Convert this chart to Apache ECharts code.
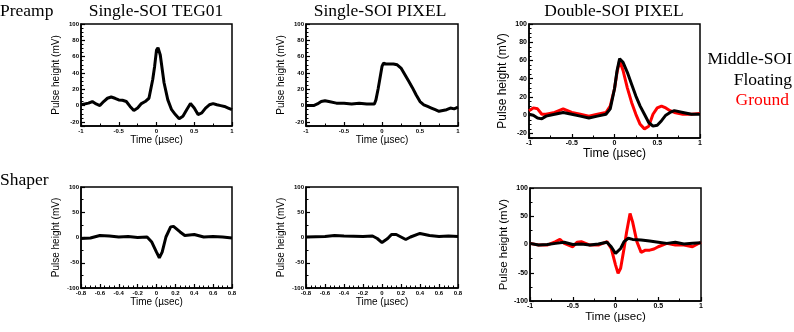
<!DOCTYPE html>
<html>
<head>
<meta charset="utf-8">
<script src="https://cdn.jsdelivr.net/npm/echarts@6/dist/echarts.min.js"></script>
<style>
html,body{margin:0;padding:0;background:#fff;}
#c{width:794px;height:332px;}
</style>
</head>
<body>
<div id="c"></div>
<script>
// ---- Data ----
// Panel 1: Preamp, Single-SOI TEG01
const t1 = [-1,-0.9,-0.85,-0.8,-0.75,-0.7,-0.65,-0.6,-0.55,-0.5,-0.45,-0.4,-0.35,-0.3,-0.25,-0.2,-0.15,-0.1,-0.05,-0.025,0,0.02,0.05,0.1,0.15,0.2,0.25,0.3,0.35,0.4,0.45,0.5,0.55,0.6,0.65,0.7,0.75,0.8,0.85,0.9,0.95,1];
const v1 = [1,3,5,2,0,5,9,10.5,9,7,6.5,5,-1,-6,-3,2.5,5,9,32,48,68,71,62,28,7,-5,-11,-16,-13,-5,2.5,-3,-11,-9,-3,1,2.5,1,0,-1,-3,-5];
// Panel 2: Preamp, Single-SOI PIXEL
const t2 = [-1,-0.9,-0.85,-0.8,-0.75,-0.7,-0.6,-0.5,-0.4,-0.3,-0.2,-0.1,-0.08,-0.05,0,0.02,0.05,0.1,0.15,0.2,0.25,0.3,0.35,0.4,0.45,0.5,0.55,0.6,0.65,0.7,0.75,0.8,0.85,0.9,0.95,1];
const v2 = [0,0,2,5,6,5,3,3,2,3,2,2,7,21,48,52,51,51,51,50,46,38,30,22,13,5,1,-1,-3,-5,-7,-6,-5,-3,-4,-2];
// Panel 3: Preamp, Double-SOI PIXEL (Ground = red, Floating = black)
const t3 = [-1,-0.95,-0.9,-0.85,-0.8,-0.7,-0.6,-0.5,-0.4,-0.3,-0.2,-0.1,-0.05,0,0.03,0.06,0.08,0.1,0.15,0.2,0.25,0.3,0.35,0.4,0.45,0.5,0.55,0.6,0.65,0.7,0.8,0.9,1];
const v3ground = [5,8,7,1,1,3,7,3,1,-1,1,3,10,29,47,60,58,49,30,14,1,-10,-15,-12,1,8,10,8,5,3,1,1,2];
const v3float  = [1,0,-3,-4,-1,1,3,1,-1,-3,-1,1,7,29,49,62,62,58,47,34,21,10,1,-8,-12,-11,-6,0,3,5,3,1,1];
// Panel 4: Shaper, Single-SOI TEG01
const t4 = [-0.8,-0.7,-0.6,-0.5,-0.4,-0.3,-0.2,-0.1,-0.05,0,0.03,0.06,0.1,0.15,0.18,0.25,0.3,0.4,0.5,0.6,0.7,0.8];
const v4 = [-2,-1,4,3,1,2,0,1,-9,-29,-40,-29,1,21,22,11,4,6,1,2,1,-1];
// Panel 5: Shaper, Single-SOI PIXEL
const t5 = [-0.8,-0.6,-0.5,-0.4,-0.2,-0.1,-0.05,0,0.02,0.06,0.1,0.15,0.2,0.25,0.3,0.4,0.5,0.6,0.7,0.8];
const v5 = [1,2,4,3,2,3,-2,-10,-13,-2,6,6,1,-4,1,8,4,2,3,2];
// Panel 6: Shaper, Double-SOI PIXEL
const t6 = [-1,-0.9,-0.8,-0.7,-0.65,-0.6,-0.5,-0.45,-0.4,-0.3,-0.2,-0.1,-0.05,0,0.03,0.06,0.1,0.13,0.17,0.2,0.25,0.3,0.35,0.4,0.45,0.5,0.6,0.7,0.8,0.9,1];
const v6ground = [2,-1,-1,5,9,2,-4,4,5,-1,-1,5,-7,-36,-51,-42,-7,22,55,40,5,-14,-10,-10,-8,-4,2,-1,-1,-4,4];
const t6b = [-1,-0.9,-0.8,-0.7,-0.6,-0.5,-0.4,-0.3,-0.2,-0.1,-0.05,0,0.02,0.06,0.1,0.15,0.2,0.3,0.4,0.5,0.6,0.7,0.8,0.9,1];
const v6float = [2,-1,0,2,4,0,1,-1,1,4,-4,-16,-19,-7,5,11,9,8,6,4,2,4,1,2,3];

// Text
const rowLabels = ['Preamp','Shaper'];
const colTitles = ['Single-SOI TEG01','Single-SOI PIXEL','Double-SOI PIXEL'];
const legendTexts = ['Middle-SOI','Floating','Ground'];
const xName = 'Time (\u00b5sec)';
const yName = 'Pulse height (mV)';

// ---- Build chart ----
const zip = (t, v) => t.map((x, i) => [x, v[i]]);
const sans = 'Liberation Sans, Arial, sans-serif';
const serif = 'Liberation Serif, Times New Roman, serif';

const panels = [
  {g:{left:81,top:24,width:151,height:102}, x:{min:-1,max:1,interval:0.5,minor:2}, y:{min:-25,max:100,minor:4}, fs:6, ns:10, xg:6, yg:20},
  {g:{left:306,top:24,width:152,height:102}, x:{min:-1,max:1,interval:0.5,minor:2}, y:{min:-25,max:100,minor:4}, fs:6, ns:10, xg:6, yg:20},
  {g:{left:529,top:24,width:171,height:114}, x:{min:-1,max:1,interval:0.5,minor:2}, y:{min:-25,max:100,minor:4}, fs:7, ns:12, xg:8, yg:20},
  {g:{left:81,top:187,width:151,height:101}, x:{min:-0.8,max:0.8,interval:0.2,minor:4}, y:{min:-100,max:100,interval:50,minor:2}, fs:6, ns:10, xg:7, yg:20},
  {g:{left:306,top:187,width:152,height:101}, x:{min:-0.8,max:0.8,interval:0.2,minor:4}, y:{min:-100,max:100,interval:50,minor:2}, fs:6, ns:10, xg:7, yg:20},
  {g:{left:530,top:188,width:171,height:113}, x:{min:-1,max:1,interval:0.5,minor:2}, y:{min:-100,max:100,interval:50,minor:2}, fs:7, ns:11.5, xg:8, yg:20}
];

const axLine = {show:true, onZero:false, lineStyle:{color:'#000', width:1.5}};
const majorTick = {show:true, inside:true, length:4, lineStyle:{color:'#000', width:1.2}};
const grid = [], xAxis = [], yAxis = [];
panels.forEach((p, i) => {
  grid.push(Object.assign({show:true, borderColor:'#000', borderWidth:1.5, backgroundColor:'transparent'}, p.g));
  xAxis.push({
    type:'value', gridIndex:i, min:p.x.min, max:p.x.max, interval:p.x.interval, position:'bottom',
    name:xName, nameLocation:'middle', nameGap:p.xg,
    nameTextStyle:{fontFamily:sans, fontSize:p.ns, color:'#000', verticalAlign:'top'},
    axisLine:axLine, splitLine:{show:false},
    axisTick:majorTick,
    minorTick:{show:true, splitNumber:p.x.minor, length:2.5, lineStyle:{color:'#000', width:1}},
    axisLabel:{fontFamily:sans, fontSize:p.fs, fontWeight:'bold', color:'#000', margin:2}
  });
  const ya = {
    type:'value', gridIndex:i, min:p.y.min, max:p.y.max, position:'left',
    name:yName, nameLocation:'middle', nameGap:p.yg, nameRotate:90,
    nameTextStyle:{fontFamily:sans, fontSize:p.ns, color:'#000'},
    axisLine:axLine, splitLine:{show:false},
    axisTick:majorTick,
    minorTick:{show:true, splitNumber:p.y.minor, length:2.5, lineStyle:{color:'#000', width:1}},
    axisLabel:{fontFamily:sans, fontSize:p.fs, fontWeight:'bold', color:'#000', margin:2, showMinLabel:p.y.interval?true:false,
      formatter: v => (v === -25 ? '' : String(v))}
  };
  if (p.y.interval) ya.interval = p.y.interval; else ya.splitNumber = 6;
  yAxis.push(ya);
});

const lineSeries = (idx, data, color, w) => ({
  type:'line', xAxisIndex:idx, yAxisIndex:idx, data:data, showSymbol:false, symbol:'none',
  lineStyle:{color:color, width:w}, itemStyle:{color:color}, animation:false, silent:true
});

const series = [
  lineSeries(0, zip(t1, v1), '#000', 3),
  lineSeries(1, zip(t2, v2), '#000', 3),
  lineSeries(2, zip(t3, v3ground), '#ff0000', 3),
  lineSeries(2, zip(t3, v3float), '#000', 3),
  lineSeries(3, zip(t4, v4), '#000', 3),
  lineSeries(4, zip(t5, v5), '#000', 3),
  lineSeries(5, zip(t6, v6ground), '#ff0000', 3),
  lineSeries(5, zip(t6b, v6float), '#000', 3)
];

const txt = (x, y, s, align, color) => ({
  type:'text', x:x, y:y,
  style:{text:s, x:0, y:0, fill:color || '#000', font:'17.5px ' + serif, textAlign:align, textVerticalAlign:'middle'}
});

const graphic = [
  txt(0, 11, rowLabels[0], 'left'),
  txt(0, 180, rowLabels[1], 'left'),
  txt(156, 11, colTitles[0], 'center'),
  txt(380, 11, colTitles[1], 'center'),
  txt(614, 11, colTitles[2], 'center'),
  txt(792, 59, legendTexts[0], 'right'),
  txt(792, 80, legendTexts[1], 'right'),
  txt(789, 100, legendTexts[2], 'right', '#ff0000')
];

const chart = echarts.init(document.getElementById('c'), null, {renderer:'canvas'});
chart.setOption({animation:false, grid, xAxis, yAxis, series, graphic});
</script>
</body>
</html>
